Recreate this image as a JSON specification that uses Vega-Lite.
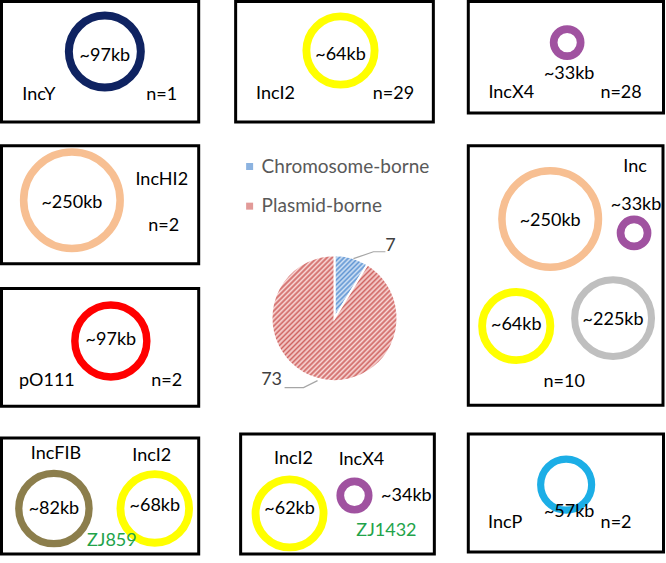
{
  "$schema": "https://vega.github.io/schema/vega-lite/v6.json",
  "width": 666,
  "height": 563,
  "autosize": {"type": "fit", "contains": "padding"},
  "padding": 0,
  "background": "white",
  "config": {"view": {"stroke": null}},
  "datasets": {
    "boxes": [
      {"box": "IncY", "x": 1.5, "x2": 199, "y": 1.5, "y2": 123},
      {"box": "IncI2", "x": 236, "x2": 434, "y": 1.5, "y2": 123},
      {"box": "IncX4", "x": 469, "x2": 664.5, "y": 1.5, "y2": 114},
      {"box": "IncHI2", "x": 1.5, "x2": 199, "y": 147, "y2": 266},
      {"box": "pO111", "x": 1.5, "x2": 199, "y": 291, "y2": 410},
      {"box": "Inc", "x": 469, "x2": 664, "y": 147, "y2": 409},
      {"box": "ZJ859", "x": 1.5, "x2": 199, "y": 442, "y2": 559},
      {"box": "ZJ1432", "x": 241, "x2": 435, "y": 438, "y2": 559},
      {"box": "IncP", "x": 469, "x2": 664.5, "y": 438, "y2": 557}
    ],
    "rings": [
      {"x": 105, "y": 52, "kb": 97, "type": "IncY"},
      {"x": 341, "y": 51, "kb": 64, "type": "IncI2"},
      {"x": 568, "y": 43, "kb": 33, "type": "IncX4"},
      {"x": 72, "y": 202, "kb": 250, "type": "IncHI2"},
      {"x": 111, "y": 344, "kb": 97, "type": "pO111"},
      {"x": 551, "y": 221, "kb": 250, "type": "IncHI2"},
      {"x": 635, "y": 235, "kb": 33, "type": "IncX4"},
      {"x": 517, "y": 329, "kb": 64, "type": "IncI2"},
      {"x": 614, "y": 321, "kb": 225, "type": "Unknown"},
      {"x": 54, "y": 513, "kb": 82, "type": "IncFIB"},
      {"x": 155, "y": 513, "kb": 68, "type": "IncI2"},
      {"x": 290, "y": 518, "kb": 62, "type": "IncI2"},
      {"x": 355, "y": 500, "kb": 34, "type": "IncX4"},
      {"x": 567, "y": 489, "kb": 57, "type": "IncP"}
    ],
    "labels": [
      {"t": "~97kb", "x": 105, "y": 57},
      {"t": "IncY", "x": 39, "y": 96},
      {"t": "n=1", "x": 162, "y": 96},
      {"t": "~64kb", "x": 341, "y": 55},
      {"t": "IncI2", "x": 276, "y": 95},
      {"t": "n=29", "x": 394, "y": 95},
      {"t": "~33kb", "x": 570, "y": 75},
      {"t": "IncX4", "x": 512, "y": 94},
      {"t": "n=28", "x": 622, "y": 94},
      {"t": "~250kb", "x": 72, "y": 205},
      {"t": "IncHI2", "x": 162, "y": 182},
      {"t": "n=2", "x": 164, "y": 228},
      {"t": "~97kb", "x": 111, "y": 343},
      {"t": "pO111", "x": 47, "y": 384},
      {"t": "n=2", "x": 167, "y": 384},
      {"t": "Inc", "x": 636, "y": 168},
      {"t": "~33kb", "x": 637, "y": 207},
      {"t": "~250kb", "x": 551, "y": 223},
      {"t": "~64kb", "x": 517, "y": 328},
      {"t": "~225kb", "x": 614, "y": 323},
      {"t": "n=10", "x": 565, "y": 385},
      {"t": "IncFIB", "x": 56, "y": 458},
      {"t": "IncI2", "x": 152, "y": 460},
      {"t": "~82kb", "x": 54, "y": 514},
      {"t": "~68kb", "x": 155, "y": 511},
      {"t": "IncI2", "x": 294, "y": 463},
      {"t": "IncX4", "x": 362, "y": 464},
      {"t": "~62kb", "x": 290, "y": 514},
      {"t": "~34kb", "x": 407, "y": 500},
      {"t": "~57kb", "x": 570, "y": 517},
      {"t": "IncP", "x": 506, "y": 528},
      {"t": "n=2", "x": 617, "y": 528}
    ],
    "strains": [
      {"t": "ZJ859", "x": 112, "y": 546},
      {"t": "ZJ1432", "x": 387, "y": 536}
    ],
    "legend": [
      {"type": "Chromosome-borne", "x": 250, "y": 168},
      {"type": "Plasmid-borne", "x": 250, "y": 208}
    ],
    "pie": [
      {"type": "Chromosome-borne", "value": 7, "order": 1, "x": 335, "y": 321},
      {"type": "Plasmid-borne", "value": 73, "order": 2, "x": 335, "y": 321}
    ],
    "leaders": [
      {"seg": "Chromosome-borne", "ord": 1, "x": 354, "y": 261},
      {"seg": "Chromosome-borne", "ord": 2, "x": 374, "y": 254},
      {"seg": "Chromosome-borne", "ord": 3, "x": 386, "y": 254},
      {"seg": "Plasmid-borne", "ord": 1, "x": 285, "y": 391},
      {"seg": "Plasmid-borne", "ord": 2, "x": 304, "y": 391},
      {"seg": "Plasmid-borne", "ord": 3, "x": 318, "y": 384}
    ],
    "pielabels": [
      {"t": "7", "x": 391, "y": 248},
      {"t": "73", "x": 272, "y": 383}
    ]
  },
  "encoding": {
    "x": {"field": "x", "type": "quantitative", "scale": {"domain": [0, 666], "nice": false, "zero": false}, "axis": null},
    "y": {"field": "y", "type": "quantitative", "scale": {"domain": [0, 563], "reverse": true, "nice": false, "zero": false}, "axis": null}
  },
  "layer": [
    {
      "data": {"name": "boxes"},
      "mark": {"type": "rect", "filled": false, "stroke": "#000000", "strokeWidth": 3},
      "encoding": {
        "x2": {"field": "x2"},
        "y2": {"field": "y2"}
      }
    },
    {
      "data": {"name": "pie"},
      "mark": {"type": "arc", "outerRadius": 63, "stroke": "#ffffff", "strokeWidth": 2},
      "encoding": {
        "theta": {"field": "value", "type": "quantitative", "stack": true},
        "order": {"field": "order", "type": "quantitative"},
        "fill": {
          "condition": {
            "test": "datum.type === 'Chromosome-borne'",
            "value": {"gradient": "linear", "x1": 0, "y1": 0, "x2": 0.63, "y2": 1.2, "stops": [
              {"offset": 0, "color": "#d3e3f5"}, {"offset": 0.025, "color": "#5f95d3"},
              {"offset": 0.05, "color": "#d3e3f5"}, {"offset": 0.075, "color": "#5f95d3"},
              {"offset": 0.1, "color": "#d3e3f5"}, {"offset": 0.125, "color": "#5f95d3"},
              {"offset": 0.15, "color": "#d3e3f5"}, {"offset": 0.175, "color": "#5f95d3"},
              {"offset": 0.2, "color": "#d3e3f5"}, {"offset": 0.225, "color": "#5f95d3"},
              {"offset": 0.25, "color": "#d3e3f5"}, {"offset": 0.275, "color": "#5f95d3"},
              {"offset": 0.3, "color": "#d3e3f5"}, {"offset": 0.325, "color": "#5f95d3"},
              {"offset": 0.35, "color": "#d3e3f5"}, {"offset": 0.375, "color": "#5f95d3"},
              {"offset": 0.4, "color": "#d3e3f5"}, {"offset": 0.425, "color": "#5f95d3"},
              {"offset": 0.45, "color": "#d3e3f5"}, {"offset": 0.475, "color": "#5f95d3"},
              {"offset": 0.5, "color": "#d3e3f5"}, {"offset": 0.525, "color": "#5f95d3"},
              {"offset": 0.55, "color": "#d3e3f5"}, {"offset": 0.575, "color": "#5f95d3"},
              {"offset": 0.6, "color": "#d3e3f5"}, {"offset": 0.625, "color": "#5f95d3"},
              {"offset": 0.65, "color": "#d3e3f5"}, {"offset": 0.675, "color": "#5f95d3"},
              {"offset": 0.7, "color": "#d3e3f5"}, {"offset": 0.725, "color": "#5f95d3"},
              {"offset": 0.75, "color": "#d3e3f5"}, {"offset": 0.775, "color": "#5f95d3"},
              {"offset": 0.8, "color": "#d3e3f5"}, {"offset": 0.825, "color": "#5f95d3"},
              {"offset": 0.85, "color": "#d3e3f5"}, {"offset": 0.875, "color": "#5f95d3"},
              {"offset": 0.9, "color": "#d3e3f5"}, {"offset": 0.925, "color": "#5f95d3"},
              {"offset": 0.95, "color": "#d3e3f5"}, {"offset": 0.975, "color": "#5f95d3"},
              {"offset": 1, "color": "#d3e3f5"}
            ]}
          },
          "value": {"gradient": "linear", "x1": 0, "y1": 0, "x2": 1, "y2": 1, "stops": [
            {"offset": 0, "color": "#f9d9d8"}, {"offset": 0.01, "color": "#cf6461"},
            {"offset": 0.02, "color": "#f9d9d8"}, {"offset": 0.03, "color": "#cf6461"},
            {"offset": 0.04, "color": "#f9d9d8"}, {"offset": 0.05, "color": "#cf6461"},
            {"offset": 0.06, "color": "#f9d9d8"}, {"offset": 0.07, "color": "#cf6461"},
            {"offset": 0.08, "color": "#f9d9d8"}, {"offset": 0.09, "color": "#cf6461"},
            {"offset": 0.1, "color": "#f9d9d8"}, {"offset": 0.11, "color": "#cf6461"},
            {"offset": 0.12, "color": "#f9d9d8"}, {"offset": 0.13, "color": "#cf6461"},
            {"offset": 0.14, "color": "#f9d9d8"}, {"offset": 0.15, "color": "#cf6461"},
            {"offset": 0.16, "color": "#f9d9d8"}, {"offset": 0.17, "color": "#cf6461"},
            {"offset": 0.18, "color": "#f9d9d8"}, {"offset": 0.19, "color": "#cf6461"},
            {"offset": 0.2, "color": "#f9d9d8"}, {"offset": 0.21, "color": "#cf6461"},
            {"offset": 0.22, "color": "#f9d9d8"}, {"offset": 0.23, "color": "#cf6461"},
            {"offset": 0.24, "color": "#f9d9d8"}, {"offset": 0.25, "color": "#cf6461"},
            {"offset": 0.26, "color": "#f9d9d8"}, {"offset": 0.27, "color": "#cf6461"},
            {"offset": 0.28, "color": "#f9d9d8"}, {"offset": 0.29, "color": "#cf6461"},
            {"offset": 0.3, "color": "#f9d9d8"}, {"offset": 0.31, "color": "#cf6461"},
            {"offset": 0.32, "color": "#f9d9d8"}, {"offset": 0.33, "color": "#cf6461"},
            {"offset": 0.34, "color": "#f9d9d8"}, {"offset": 0.35, "color": "#cf6461"},
            {"offset": 0.36, "color": "#f9d9d8"}, {"offset": 0.37, "color": "#cf6461"},
            {"offset": 0.38, "color": "#f9d9d8"}, {"offset": 0.39, "color": "#cf6461"},
            {"offset": 0.4, "color": "#f9d9d8"}, {"offset": 0.41, "color": "#cf6461"},
            {"offset": 0.42, "color": "#f9d9d8"}, {"offset": 0.43, "color": "#cf6461"},
            {"offset": 0.44, "color": "#f9d9d8"}, {"offset": 0.45, "color": "#cf6461"},
            {"offset": 0.46, "color": "#f9d9d8"}, {"offset": 0.47, "color": "#cf6461"},
            {"offset": 0.48, "color": "#f9d9d8"}, {"offset": 0.49, "color": "#cf6461"},
            {"offset": 0.5, "color": "#f9d9d8"}, {"offset": 0.51, "color": "#cf6461"},
            {"offset": 0.52, "color": "#f9d9d8"}, {"offset": 0.53, "color": "#cf6461"},
            {"offset": 0.54, "color": "#f9d9d8"}, {"offset": 0.55, "color": "#cf6461"},
            {"offset": 0.56, "color": "#f9d9d8"}, {"offset": 0.57, "color": "#cf6461"},
            {"offset": 0.58, "color": "#f9d9d8"}, {"offset": 0.59, "color": "#cf6461"},
            {"offset": 0.6, "color": "#f9d9d8"}, {"offset": 0.61, "color": "#cf6461"},
            {"offset": 0.62, "color": "#f9d9d8"}, {"offset": 0.63, "color": "#cf6461"},
            {"offset": 0.64, "color": "#f9d9d8"}, {"offset": 0.65, "color": "#cf6461"},
            {"offset": 0.66, "color": "#f9d9d8"}, {"offset": 0.67, "color": "#cf6461"},
            {"offset": 0.68, "color": "#f9d9d8"}, {"offset": 0.69, "color": "#cf6461"},
            {"offset": 0.7, "color": "#f9d9d8"}, {"offset": 0.71, "color": "#cf6461"},
            {"offset": 0.72, "color": "#f9d9d8"}, {"offset": 0.73, "color": "#cf6461"},
            {"offset": 0.74, "color": "#f9d9d8"}, {"offset": 0.75, "color": "#cf6461"},
            {"offset": 0.76, "color": "#f9d9d8"}, {"offset": 0.77, "color": "#cf6461"},
            {"offset": 0.78, "color": "#f9d9d8"}, {"offset": 0.79, "color": "#cf6461"},
            {"offset": 0.8, "color": "#f9d9d8"}, {"offset": 0.81, "color": "#cf6461"},
            {"offset": 0.82, "color": "#f9d9d8"}, {"offset": 0.83, "color": "#cf6461"},
            {"offset": 0.84, "color": "#f9d9d8"}, {"offset": 0.85, "color": "#cf6461"},
            {"offset": 0.86, "color": "#f9d9d8"}, {"offset": 0.87, "color": "#cf6461"},
            {"offset": 0.88, "color": "#f9d9d8"}, {"offset": 0.89, "color": "#cf6461"},
            {"offset": 0.9, "color": "#f9d9d8"}, {"offset": 0.91, "color": "#cf6461"},
            {"offset": 0.92, "color": "#f9d9d8"}, {"offset": 0.93, "color": "#cf6461"},
            {"offset": 0.94, "color": "#f9d9d8"}, {"offset": 0.95, "color": "#cf6461"},
            {"offset": 0.96, "color": "#f9d9d8"}, {"offset": 0.97, "color": "#cf6461"},
            {"offset": 0.98, "color": "#f9d9d8"}, {"offset": 0.99, "color": "#cf6461"},
            {"offset": 1, "color": "#f9d9d8"}
          ]}
        }
      }
    },
    {
      "data": {"name": "leaders"},
      "mark": {"type": "line", "color": "#a6a6a6", "strokeWidth": 1.2},
      "encoding": {
        "detail": {"field": "seg", "type": "nominal"},
        "order": {"field": "ord", "type": "quantitative"}
      }
    },
    {
      "data": {"name": "rings"},
      "mark": {"type": "point", "shape": "circle", "filled": false, "opacity": 1},
      "encoding": {
        "size": {"field": "kb", "type": "quantitative", "legend": null,
          "scale": {"type": "linear", "zero": false, "domain": [33, 57, 62, 97, 225, 250], "range": [729, 2601, 4624, 5184, 5914, 9312]}},
        "color": {"field": "type", "type": "nominal", "legend": null,
          "scale": {"domain": ["IncY", "IncI2", "IncX4", "IncHI2", "pO111", "IncFIB", "IncP", "Unknown"],
                    "range": ["#0f2361", "#ffff00", "#a052a0", "#f7bf92", "#ff0000", "#8c7e4c", "#1caee6", "#bfbfbf"]}},
        "strokeWidth": {"field": "type", "type": "ordinal", "legend": null,
          "scale": {"domain": ["IncY", "IncI2", "IncX4", "IncHI2", "pO111", "IncFIB", "IncP", "Unknown"],
                    "range": [8, 7, 9, 6.5, 8, 8, 7, 6.5]}}
      }
    },
    {
      "data": {"name": "labels"},
      "mark": {"type": "text", "font": "Lato", "fontSize": 18, "color": "#000000", "align": "center", "baseline": "middle"},
      "encoding": {"text": {"field": "t"}}
    },
    {
      "data": {"name": "strains"},
      "mark": {"type": "text", "font": "Lato", "fontSize": 18, "color": "#22a34a", "align": "center", "baseline": "middle"},
      "encoding": {"text": {"field": "t"}}
    },
    {
      "data": {"name": "legend"},
      "mark": {"type": "point", "shape": "square", "filled": true, "size": 49, "opacity": 1},
      "encoding": {
        "fill": {"condition": {"test": "datum.type === 'Chromosome-borne'", "value": "#8cb3e0"}, "value": "#e29a98"}
      }
    },
    {
      "data": {"name": "legend"},
      "mark": {"type": "text", "font": "Lato", "fontSize": 19, "color": "#595959", "align": "left", "baseline": "middle", "dx": 12},
      "encoding": {"text": {"field": "type"}}
    },
    {
      "data": {"name": "pielabels"},
      "mark": {"type": "text", "font": "Lato", "fontSize": 18, "color": "#404040", "align": "center", "baseline": "middle"},
      "encoding": {"text": {"field": "t"}}
    }
  ]
}
